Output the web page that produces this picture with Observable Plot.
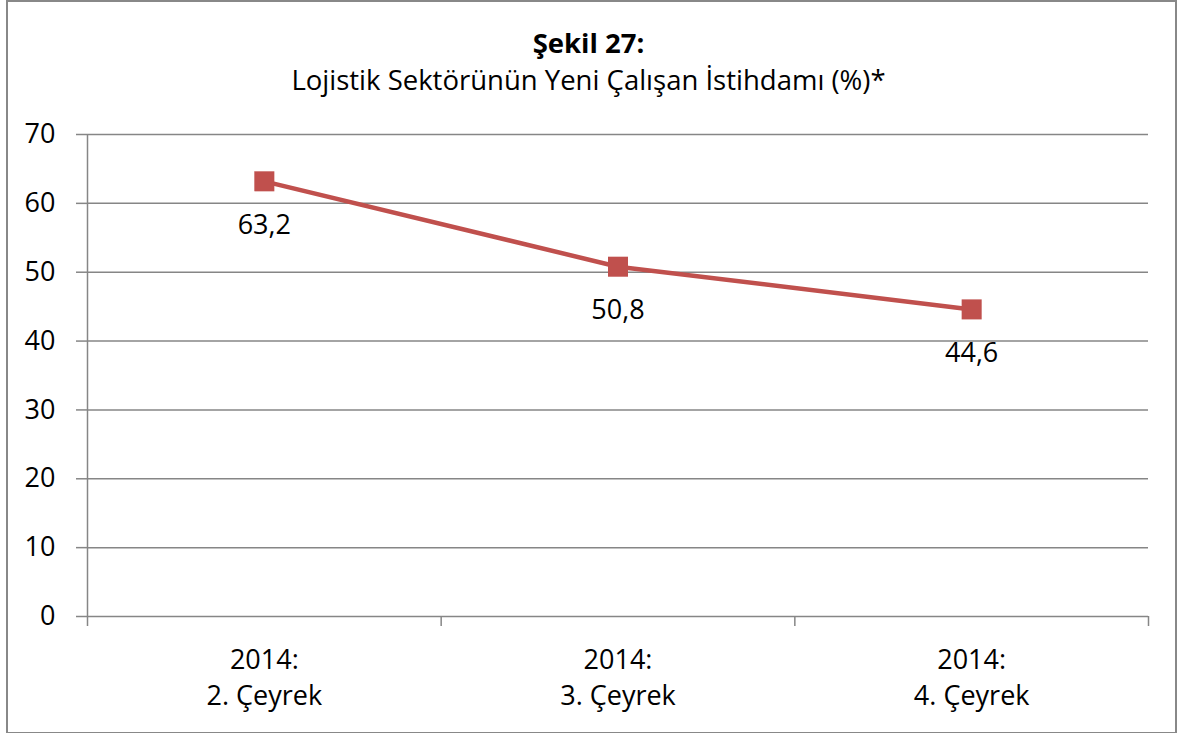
<!DOCTYPE html>
<html>
<head>
<meta charset="utf-8">
<script src="https://cdn.jsdelivr.net/npm/d3@7"></script>
<script src="https://cdn.jsdelivr.net/npm/@observablehq/plot@0.6"></script>
<style>
  html, body { margin: 0; padding: 0; background: #fff; }
  #wrap { position: relative; width: 1177px; height: 733px; overflow: hidden; font-family: "Open Sans", Lato, sans-serif; color: #000; }
  #border { position: absolute; left: 6px; top: 0px; width: 1167px; height: 730px; border: 2px solid #888; box-sizing: content-box; }
  #title { position: absolute; left: 0; width: 1177px; top: 24px; text-align: center; font-size: 27.5px; line-height: 37px; }
  #title b { font-weight: bold; }
  #chart { position: absolute; left: 0; top: 100px; }
</style>
</head>
<body>
<div id="wrap">
  <div id="border"></div>
  <div id="title"><b>Şekil 27:</b><br>Lojistik Sektörünün Yeni Çalışan İstihdamı (%)*</div>
  <div id="chart"></div>
</div>
<script>
const categories = ["2014:\n2. Çeyrek", "2014:\n3. Çeyrek", "2014:\n4. Çeyrek"];
const values = [63.2, 50.8, 44.6];
const valueLabels = ["63,2", "50,8", "44,6"];
const yTicks = [0, 10, 20, 30, 40, 50, 60, 70];

const data = categories.map((c, i) => ({pos: i + 0.5, cat: c, value: values[i], label: valueLabels[i]}));
const red = "#C0504D";
const gray = "#868686";

const chart = Plot.plot({
  width: 1177,
  height: 620,
  marginTop: 34,
  marginBottom: 104,
  marginLeft: 87,
  marginRight: 29,
  style: {fontFamily: "'Open Sans', Lato, sans-serif", fontSize: "27px", color: "#000", background: "transparent"},
  x: {domain: [0, categories.length]},
  y: {domain: [0, 70]},
  marks: [
    Plot.ruleY(yTicks, {stroke: gray, strokeWidth: 1.5}),
    Plot.ruleX([0], {y1: 0, y2: 70, stroke: gray, strokeWidth: 1.5}),
    Plot.axisY({ticks: yTicks, tickSize: 11, tickPadding: 21, stroke: gray, strokeWidth: 1.5, strokeOpacity: 1, fontSize: 27, label: null, color: "#000"}),
    Plot.axisX({ticks: d3.range(categories.length + 1), tickSize: 10, tickFormat: () => "", stroke: gray, strokeWidth: 1.5, strokeOpacity: 1, label: null}),
    Plot.axisX({ticks: data.map(d => d.pos), tickSize: 0, tickPadding: 27, tickFormat: (d, i) => categories[i], fontSize: 27, lineHeight: 1.33, label: null}),
    Plot.line(data, {x: "pos", y: "value", stroke: red, strokeWidth: 4.5}),
    Plot.dot(data, {x: "pos", y: "value", symbol: "square", r: 11.3, fill: red, stroke: "none"}),
    Plot.text(data, {x: "pos", y: "value", text: "label", dy: 44, fontSize: 27, fill: "#000"})
  ]
});
document.getElementById("chart").appendChild(chart);
</script>
</body>
</html>
